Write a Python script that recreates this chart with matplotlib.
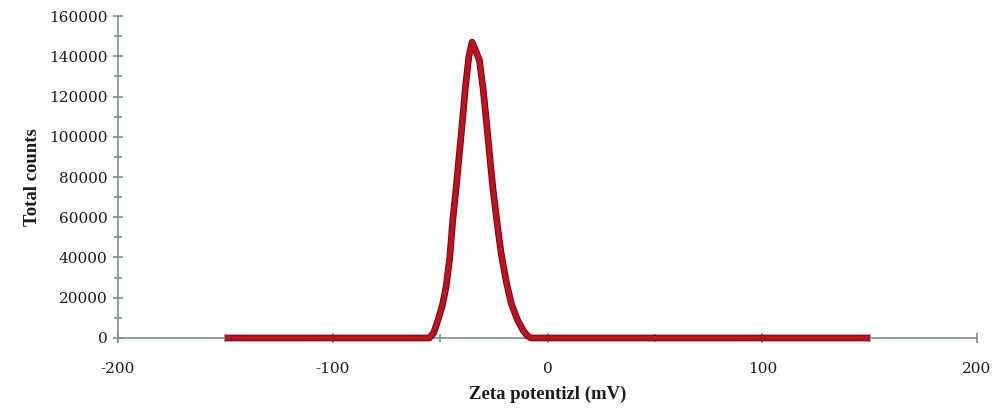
import matplotlib
matplotlib.use("Agg")
import matplotlib.pyplot as plt
import matplotlib.patheffects as pe
from matplotlib.ticker import MultipleLocator

plt.rcParams["axes.unicode_minus"] = False

zeta_mv = [-150, -60, -55, -53, -51, -49, -47.2, -45.5, -44.1, -42.5, -41, -39.5,
           -38.2, -36.6, -35.1, -33.5, -31.7, -30, -28.5, -27, -25.5, -23.5, -21.6,
           -19.2, -16.9, -14, -11.5, -9.5, -7.6, 0, 150]
total_counts = [0, 0, 0, 2500, 8900, 16000, 25500, 40000, 58600, 75000, 92000, 109000,
                124800, 140000, 147000, 143000, 138000, 124000, 108300, 91500, 75200, 57500, 42100,
                28000, 17200, 9000, 4000, 1200, 0, 0, 0]

fig = plt.figure(figsize=(10, 4.18), dpi=100)
ax = fig.add_axes([0.118, 0.1914, 0.859, 0.7703])

axis_col = "#7d8f8f"
ax.plot(zeta_mv, total_counts, color="#c4101e", lw=3.6, solid_capstyle="butt",
        solid_joinstyle="round",
        path_effects=[pe.Stroke(linewidth=4.8, foreground="#4a0c12"), pe.Normal()],
        zorder=3, clip_on=False)

ax.set_xlim(-200, 200)
ax.set_ylim(0, 160000)
ax.xaxis.set_major_locator(MultipleLocator(100))
ax.xaxis.set_minor_locator(MultipleLocator(50))
ax.yaxis.set_major_locator(MultipleLocator(20000))
ax.yaxis.set_minor_locator(MultipleLocator(10000))

for s in ["top", "right"]:
    ax.spines[s].set_visible(False)
for s in ["left", "bottom"]:
    ax.spines[s].set_color(axis_col)
    ax.spines[s].set_linewidth(1.2)
    ax.spines[s].set_zorder(2)

ax.tick_params(axis="both", which="both", direction="inout", color=axis_col, width=1.2)
ax.tick_params(axis="both", which="major", length=7)
ax.tick_params(axis="both", which="minor", length=6)
ax.tick_params(axis="x", which="major", pad=14)
ax.tick_params(axis="y", which="major", pad=4)

for lab in ax.get_xticklabels() + ax.get_yticklabels():
    lab.set_fontfamily("DejaVu Serif")
    lab.set_fontsize(11)
    lab.set_color("#1a1a1a")

ax.set_xlabel("Zeta potentizl (mV)", fontfamily="Liberation Serif", fontweight="bold",
              fontsize=13.5, labelpad=7, color="#1a1a1a")
ax.set_ylabel("Total counts", fontfamily="Liberation Serif", fontweight="bold",
              fontsize=13.5, labelpad=6, color="#1a1a1a")

fig.savefig("out.png", dpi=100)
